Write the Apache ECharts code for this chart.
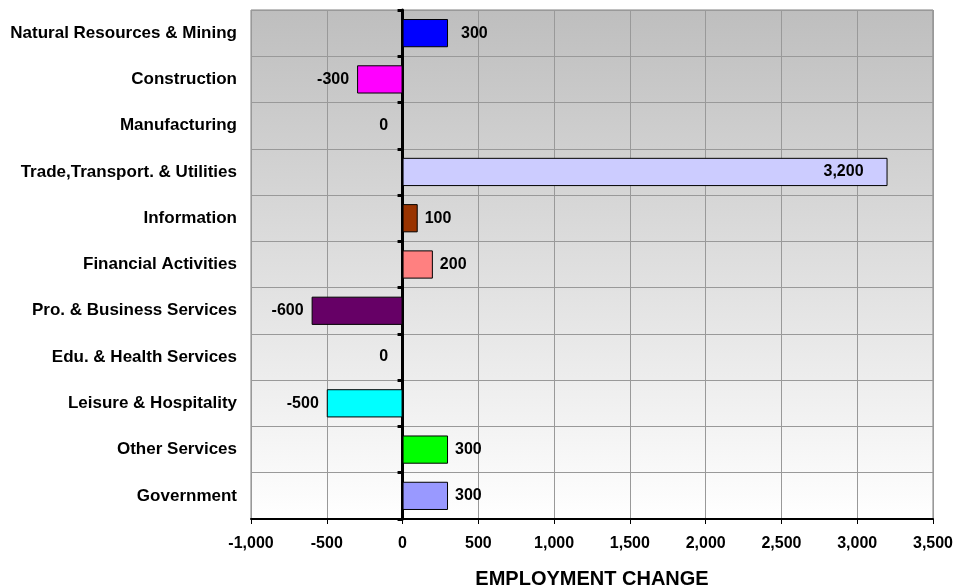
<!DOCTYPE html>
<html>
<head>
<meta charset="utf-8">
<script src="https://cdn.jsdelivr.net/npm/echarts@6/dist/echarts.min.js"></script>
<style>
    html, body { margin: 0; padding: 0; background: #ffffff; }
    #container { width: 964px; height: 586px; }
</style>
</head>
<body>
<div id="container"></div>
<script type="text/javascript">
    var categories = ['Natural Resources & Mining', 'Construction', 'Manufacturing',
        'Trade,Transport. & Utilities', 'Information', 'Financial Activities',
        'Pro. & Business Services', 'Edu. & Health Services', 'Leisure & Hospitality',
        'Other Services', 'Government'];
    var values = [300, -300, 0, 3200, 100, 200, -600, 0, -500, 300, 300];
    var colors = ['#0000ff', '#ff00ff', '#ffff00', '#ccccff', '#993300', '#ff8080',
        '#660066', '#ffffff', '#00ffff', '#00ff00', '#9999ff'];
    var xTicks = { min: -1000, max: 3500, step: 500 };

    var fontFam = '"Liberation Sans", Arial, sans-serif';

    function fmt(v) {
        return v.toLocaleString('en-US');
    }

    var barData = values.map(function (v, i) {
        var lbl = { position: 'right', distance: 7 };
        if (v <= 0) lbl = { position: 'left', distance: v === 0 ? 14 : 8 };
        if (v >= 3000) lbl = { position: 'insideRight', distance: 24 };
        if (i === 0) lbl.distance = 13;
        return { value: v, itemStyle: { color: colors[i] }, label: lbl };
    });

    var myChart = echarts.init(document.getElementById('container'));
    var option = {
        animation: false,
        grid: {
            left: 251, right: 31, top: 10, bottom: 67,
            outerBoundsMode: 'none',
            containLabel: false,
            show: true,
            borderColor: '#808080',
            borderWidth: 1,
            backgroundColor: new echarts.graphic.LinearGradient(0, 0, 0, 1, [
                { offset: 0, color: '#bebebe' },
                { offset: 1, color: '#ffffff' }
            ])
        },
        xAxis: {
            type: 'value',
            min: xTicks.min,
            max: xTicks.max,
            interval: xTicks.step,
            name: 'EMPLOYMENT CHANGE',
            nameLocation: 'middle',
            nameGap: 50,
            nameTextStyle: { fontFamily: fontFam, fontWeight: 'bold', fontSize: 20, color: '#000' },
            axisLine: { show: true, onZero: false, lineStyle: { color: '#000', width: 2 } },
            axisTick: { show: true, length: 5, lineStyle: { color: '#000', width: 1 } },
            axisLabel: {
                margin: 17,
                fontFamily: fontFam, fontWeight: 'bold', fontSize: 16, color: '#000',
                formatter: function (v) { return fmt(v); }
            },
            splitLine: { show: true, lineStyle: { color: '#999999', width: 1 } }
        },
        yAxis: [{
            type: 'category',
            data: categories,
            inverse: true,
            axisLine: { show: false, onZero: false },
            axisTick: { show: false },
            axisLabel: {
                margin: 14,
                fontFamily: fontFam, fontWeight: 'bold', fontSize: 17, color: '#000'
            },
            splitLine: { show: true, lineStyle: { color: '#999999', width: 1 } }
        }, {
            type: 'category',
            data: categories,
            inverse: true,
            position: 'left',
            axisLine: { show: true, onZero: true, lineStyle: { color: '#000', width: 3 } },
            axisTick: { show: true, length: 5, lineStyle: { color: '#000', width: 3 } },
            axisLabel: { show: false },
            splitLine: { show: false }
        }],
        series: [{
            type: 'bar',
            yAxisIndex: 0,
            data: barData,
            barWidth: '61%',
            itemStyle: { borderColor: '#000', borderWidth: 1 },
            label: {
                show: true,
                fontFamily: fontFam, fontWeight: 'bold', fontSize: 16, color: '#000',
                formatter: function (p) { return fmt(p.value); }
            }
        }]
    };
    myChart.setOption(option);
</script>
</body>
</html>
